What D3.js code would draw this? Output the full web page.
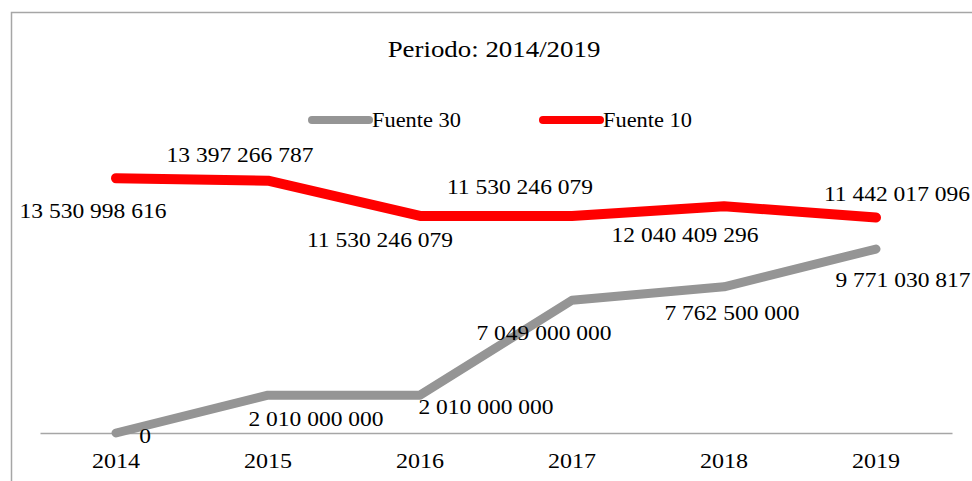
<!DOCTYPE html>
<html>
<head>
<meta charset="utf-8">
<script src="https://cdn.jsdelivr.net/npm/d3@7"></script>
<style>
  html, body { margin: 0; padding: 0; background: #fff; }
  svg { display: block; font-family: "Liberation Serif", "Times New Roman", serif; }
</style>
</head>
<body>
<div id="viz"></div>
<script>
// datos del grafico
const years = ["2014", "2015", "2016", "2017", "2018", "2019"];
const fuente30 = [0, 2010000000, 2010000000, 7049000000, 7762500000, 9771030817];
const fuente10 = [13530998616, 13397266787, 11530246079, 11530246079, 12040409296, 11442017096];
const seriesNames = ["Fuente 30", "Fuente 10"];

// desplazamiento de etiquetas (en px, relativo al punto)
const offs10 = [[-23, 40], [-28, -19], [-40, 31], [-52, -22], [-39, 36], [21, -17]];
const offs30 = [[29, 10], [48, 31], [66, 19], [-28, 40], [8, 33], [27, 38]];

const W = 972, H = 481;
const colors = ["#959595", "#ff0000"];
const stretch = 1.12;

const fmt = v => d3.format(",")(v).replace(/,/g, " ");

const svg = d3.select("#viz").append("svg")
  .attr("width", W).attr("height", H);

// marco
svg.append("path")
  .attr("d", `M11.5,${H} L11.5,12.5 L${W},12.5`)
  .attr("fill", "none").attr("stroke", "#a6a6a6").attr("stroke-width", 1.5);

// titulo
svg.append("text")
  .attr("transform", `translate(494,57) scale(${stretch},1)`)
  .attr("text-anchor", "middle")
  .attr("font-size", 24)
  .text("Periodo: 2014/2019");

const x = d3.scaleBand().domain(years).range([40, 952]);
const y = d3.scaleLinear().domain([0, 16e9]).range([433, 433 - 16 * 18.83]);
const cx = d => x(d) + x.bandwidth() / 2;

// eje x
const ax = svg.append("g")
  .attr("transform", "translate(0,433)")
  .call(d3.axisBottom(x).tickSize(0).tickPadding(20));
ax.select(".domain").attr("stroke", "#a6a6a6").attr("stroke-width", 1.5);
ax.selectAll(".tick text")
  .attr("font-family", "Liberation Serif, Times New Roman, serif")
  .attr("font-size", 21.5).attr("fill", "#000")
  .attr("dy", "0.71em")
  .attr("transform", `scale(${stretch},1)`);

const line = d3.line()
  .x((d, i) => cx(years[i]))
  .y(d => y(d));

[fuente30, fuente10].forEach((vals, k) => {
  svg.append("path")
    .datum(vals)
    .attr("d", line)
    .attr("fill", "none")
    .attr("stroke", colors[k])
    .attr("stroke-width", k === 0 ? 9 : 10)
    .attr("stroke-linecap", "round")
    .attr("stroke-linejoin", "round");
});

// etiquetas de datos
function labels(vals, offs) {
  svg.append("g").selectAll("text")
    .data(vals)
    .join("text")
    .attr("transform", (d, i) => `translate(${cx(years[i]) + offs[i][0]},${y(d) + offs[i][1]}) scale(${stretch},1)`)
    .attr("text-anchor", "middle")
    .attr("font-size", 21)
    .text(d => fmt(d));
}
labels(fuente10, offs10);
labels(fuente30, offs30);

// leyenda
const legX = [312, 543];
seriesNames.forEach((n, k) => {
  const g = svg.append("g");
  g.append("line")
    .attr("x1", legX[k]).attr("x2", legX[k] + 57)
    .attr("y1", 120).attr("y2", 120)
    .attr("stroke", colors[k]).attr("stroke-width", 8)
    .attr("stroke-linecap", "round");
  g.append("text")
    .attr("transform", `translate(${legX[k] + 60},127) scale(${stretch},1)`)
    .attr("font-size", 20)
    .text(n);
});
</script>
</body>
</html>
